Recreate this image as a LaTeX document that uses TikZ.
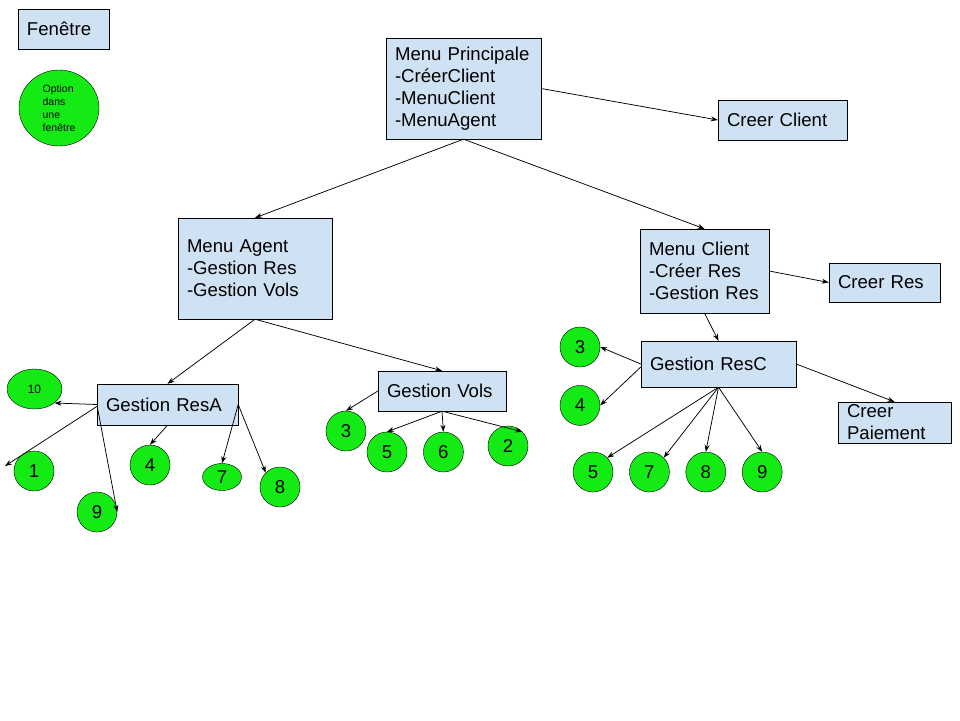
\documentclass[tikz,border=0pt]{standalone}
\usepackage{fontspec}
\setmainfont{Liberation Sans}
\usetikzlibrary{shapes, arrows.meta, positioning, calc}
\definecolor{boxblue}{RGB}{207,226,243}
\definecolor{optgreen}{RGB}{20,235,20}

\begin{document}
\begin{tikzpicture}[
  x=1pt, y=-1pt,
  >={Stealth[length=7pt, width=5pt]},
  menubox/.style={draw, fill=boxblue, align=left, inner xsep=9pt, inner ysep=2pt, font=\fontsize{18.6}{22}\selectfont},
  optnode/.style={draw, ellipse, fill=optgreen, minimum width=40pt, minimum height=40pt, inner sep=0pt, font=\fontsize{18.6}{22}\selectfont},
  flow/.style={->, line width=0.75pt, black}
]
\useasboundingbox (0,0) rectangle (960,720);

% legend
\node[menubox, text width=73pt, minimum height=40pt] (Win) at (63.5,29) {Fenêtre};
\node[optnode, minimum width=80pt, minimum height=76pt, align=left, font=\fontsize{10.5}{13}\selectfont] (Opt) at (59,108) {Option\\dans\\une\\fenêtre};

% menus
\node[menubox, text width=137pt, minimum height=101pt] (MainMenu) at (463.5,88.5) {Menu Principale\\-CréerClient\\-MenuClient\\-MenuAgent};
\node[menubox, text width=111pt, minimum height=40pt] (NewClient) at (782.5,120) {Creer Client};
\node[menubox, text width=136pt, minimum height=101pt] (Agent) at (255,268.5) {Menu Agent\\-Gestion Res\\-Gestion Vols};
\node[menubox, text width=111pt, minimum height=84pt] (Client) at (704.5,271) {Menu Client\\-Créer Res\\-Gestion Res};
\node[menubox, text width=93pt, minimum height=39pt] (NewRes) at (884.5,282.5) {Creer Res};
\node[menubox, text width=123pt, minimum height=41pt] (ResA) at (167.5,404.5) {Gestion ResA};
\node[menubox, text width=110pt, minimum height=40pt] (Vols) at (442,391) {Gestion Vols};
\node[menubox, text width=137pt, minimum height=46pt] (ResC) at (718.5,364) {Gestion ResC};
\node[menubox, text width=95pt, minimum height=41pt] (Pay) at (894.5,422.5) {Creer\\Paiement};

% options of Gestion ResA
\node[optnode, minimum width=55pt, font=\fontsize{12}{14}\selectfont] (A10) at (34.5,389) {10};
\node[optnode] (A1) at (34,471) {1};
\node[optnode] (A4) at (150,465) {4};
\node[optnode, minimum width=39pt, minimum height=27pt] (A7) at (222,477) {7};
\node[optnode] (A8) at (280,487) {8};
\node[optnode] (A9) at (97,512) {9};
\coordinate (A1end) at (5,466);

% options of Gestion Vols
\node[optnode] (V3) at (346,431) {3};
\node[optnode] (V5) at (387,452) {5};
\node[optnode] (V6) [right=16pt of V5] {6};
\node[optnode] (V2) at (508,446) {2};

% options of Gestion ResC
\node[optnode] (C3) at (580,347) {3};
\node[optnode] (C4) [below=18pt of C3] {4};
\node[optnode] (C5) at (593,472) {5};
\node[optnode] (C7) [right=16pt of C5] {7};
\node[optnode] (C8) [right=16pt of C7] {8};
\node[optnode] (C9) [right=16pt of C8] {9};

% flows between menus
\draw[flow] (MainMenu.east) -- (NewClient.west);
\draw[flow] (MainMenu.south) -- (Agent.north);
\draw[flow] (MainMenu.south) -- (Client.north);
\draw[flow] (Agent.south) -- (ResA.north);
\draw[flow] (Agent.south) -- (Vols.north);
\draw[flow] (Client.east) -- (NewRes.west);
\draw[flow] (Client.south) -- (ResC.north);
\draw[flow] (ResC.east) -- (Pay.north);

% Gestion ResA
\draw[flow] (ResA.west) -- (A10.-35);
\draw[flow] ($(ResA.west)+(0,2)$) -- (A1end);
\draw[flow] ($(ResA.west)+(1,5)$) -- (A9.east);
\draw[flow] (ResA.south) -- (A4.north);
\draw[flow] (ResA.east) -- (A7.north);
\draw[flow] (ResA.east) -- (A8.135);

% Gestion Vols
\draw[flow] (Vols.west) -- (V3.north);
\draw[flow] (Vols.south) -- (V5.north);
\draw[flow] (Vols.south) -- (V6.north);
\draw[flow] (Vols.south) -- (V2.45);

% Gestion ResC
\draw[flow] (ResC.west) -- (C3.east);
\draw[flow] ($(ResC.west)+(0,3)$) -- (C4.east);
\draw[flow] (ResC.south) -- (C5.45);
\draw[flow] (ResC.south) -- (C7.45);
\draw[flow] (ResC.south) -- (C8.north);
\draw[flow] (ResC.south) -- (C9.north);

\end{tikzpicture}
\end{document}
